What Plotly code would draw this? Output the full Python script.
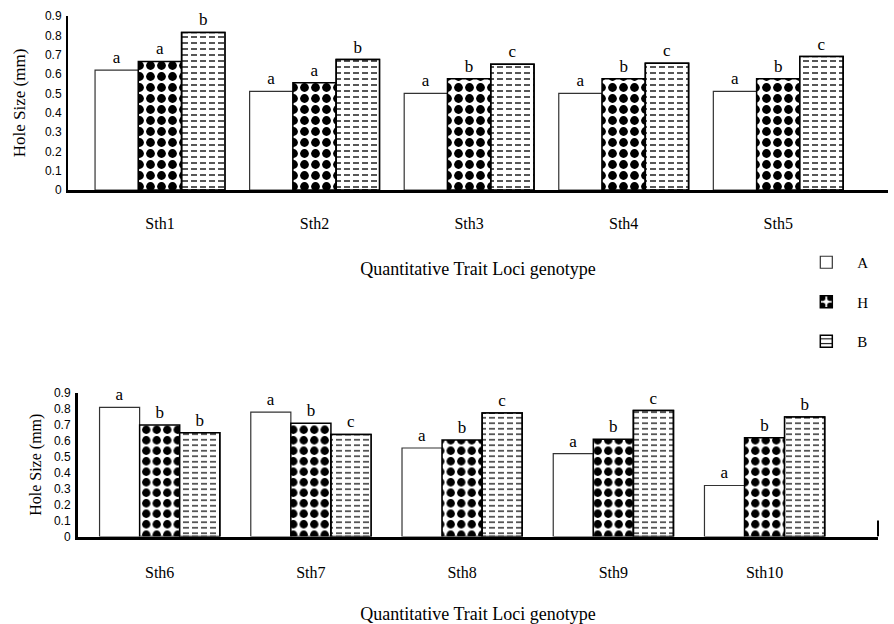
import plotly.graph_objects as go

# ---------------- data ----------------
loci_top = ["Sth1", "Sth2", "Sth3", "Sth4", "Sth5"]
loci_bottom = ["Sth6", "Sth7", "Sth8", "Sth9", "Sth10"]
genotypes = ["A", "H", "B"]

top_A = [0.62, 0.51, 0.50, 0.50, 0.51]
top_H = [0.665, 0.555, 0.575, 0.575, 0.575]
top_B = [0.815, 0.675, 0.65, 0.655, 0.69]
top_A_letters = ["a", "a", "a", "a", "a"]
top_H_letters = ["a", "a", "b", "b", "b"]
top_B_letters = ["b", "b", "c", "c", "c"]

bot_A = [0.81, 0.78, 0.555, 0.52, 0.32]
bot_H = [0.70, 0.71, 0.605, 0.61, 0.62]
bot_B = [0.65, 0.64, 0.775, 0.79, 0.75]
bot_A_letters = ["a", "a", "a", "a", "a"]
bot_H_letters = ["b", "b", "b", "b", "b"]
bot_B_letters = ["b", "c", "c", "c", "b"]

y_ticks = [0, 0.1, 0.2, 0.3, 0.4, 0.5, 0.6, 0.7, 0.8, 0.9]
y_ticktext = ["0", "0.1", "0.2", "0.3", "0.4", "0.5", "0.6", "0.7", "0.8", "0.9"]

SERIF = "Liberation Serif, Times New Roman, serif"
SANS = "Liberation Sans, Arial, sans-serif"

fig = go.Figure()


def add_panel(xa, ya, cats, vals, letters, width, show_legend, hsize, dsize):
    offs = [-1.5 * width, -0.5 * width, 0.5 * width]
    tf = dict(family=SERIF, size=17, color="black")
    # A: open bars
    fig.add_trace(go.Bar(
        x=cats, y=vals[0], name=genotypes[0], width=width, offset=offs[0],
        opacity=1,
        marker=dict(color="white", opacity=1, line=dict(color="#333333", width=1.2)),
        text=letters[0], textposition="outside", textfont=tf,
        cliponaxis=False, xaxis=xa, yaxis=ya, showlegend=show_legend,
        legendgroup="A", hoverinfo="x+y"))
    # H: black diamonds / dots
    fig.add_trace(go.Bar(
        x=cats, y=vals[1], name=genotypes[1], width=width, offset=offs[1],
        opacity=1,
        marker=dict(color="white", opacity=1, line=dict(color="black", width=1.5),
                    pattern=dict(shape=".", fgcolor="black", bgcolor="white",
                                 fgopacity=1, size=hsize, solidity=0.5)),
        text=letters[1], textposition="outside", textfont=tf,
        cliponaxis=False, xaxis=xa, yaxis=ya, showlegend=show_legend,
        legendgroup="H", hoverinfo="x+y"))
    # B: horizontal dashes (lines + white breaks)
    fig.add_trace(go.Bar(
        x=cats, y=vals[2], name=genotypes[2], width=width, offset=offs[2],
        opacity=1,
        marker=dict(color="white", opacity=1, line=dict(color="black", width=1.5),
                    pattern=dict(shape="-", fgcolor="black", bgcolor="white",
                                 fgopacity=1, size=dsize, solidity=0.22)),
        text=letters[2], textposition="outside", textfont=tf,
        cliponaxis=False, xaxis=xa, yaxis=ya, showlegend=show_legend,
        legendgroup="B", hoverinfo="x+y"))
    fig.add_trace(go.Bar(
        x=cats, y=vals[2], width=width, offset=offs[2],
        opacity=1,
        marker=dict(color="rgba(0,0,0,0)", line=dict(color="black", width=1.5),
                    pattern=dict(shape="|", fgcolor="white", fgopacity=1, size=9,
                                 solidity=0.33, fillmode="replace")),
        cliponaxis=False, xaxis=xa, yaxis=ya, showlegend=False,
        legendgroup="B", hoverinfo="skip"))


add_panel("x", "y", loci_top, [top_A, top_H, top_B],
          [top_A_letters, top_H_letters, top_B_letters], 0.28, True, 11, 6)
add_panel("x2", "y2", loci_bottom, [bot_A, bot_H, bot_B],
          [bot_A_letters, bot_H_letters, bot_B_letters], 0.265, False, 10.5, 5.5)

yaxis_common = dict(
    range=[0, 0.9], tickvals=y_ticks, ticktext=y_ticktext,
    showline=True, linecolor="black", ticks="", showgrid=False, zeroline=False,
    tickfont=dict(family=SANS, size=12, color="black"),
    ticklabelstandoff=2, automargin=False,
)
xaxis_common = dict(
    type="category", showline=True, linecolor="black", linewidth=3,
    ticks="", showgrid=False, zeroline=False, automargin=False,
    tickfont=dict(family=SERIF, size=16, color="black"),
)

fig.update_layout(
    width=894, height=624,
    margin=dict(l=0, r=0, t=0, b=0, pad=0, autoexpand=False),
    paper_bgcolor="white", plot_bgcolor="white",
    barmode="overlay",
    xaxis=dict(**xaxis_common, domain=[68 / 894, 888 / 894], anchor="y",
               range=[-0.595, 4.71], ticklabelstandoff=17,
               title=dict(text="Quantitative Trait Loci genotype",
                          font=dict(family=SERIF, size=18, color="black"),
                          standoff=32)),
    yaxis=dict(**yaxis_common, domain=[(624 - 190) / 624, (624 - 16) / 624],
               anchor="x", linewidth=2,
               title=dict(text="Hole Size (mm)",
                          font=dict(family=SERIF, size=17, color="black"),
                          standoff=15)),
    xaxis2=dict(**xaxis_common, domain=[78 / 894, 878 / 894], anchor="y2",
                range=[-0.54, 4.75], ticklabelstandoff=19,
                title=dict(text="Quantitative Trait Loci genotype",
                           font=dict(family=SERIF, size=18, color="black"),
                           standoff=28)),
    yaxis2=dict(**yaxis_common, domain=[(624 - 536.5) / 624, (624 - 393) / 624],
                anchor="x2", linewidth=3,
                title=dict(text="Hole Size (mm)",
                           font=dict(family=SERIF, size=16, color="black"),
                           standoff=9)),
    legend=dict(x=0.8896, y=(624 - 246) / 624, xanchor="left", yanchor="top",
                font=dict(family=SERIF, size=15, color="black"),
                tracegroupgap=17, bgcolor="rgba(0,0,0,0)", itemwidth=52),
    shapes=[dict(type="line", xref="x2 domain", yref="y2", x0=1, x1=1,
                 y0=0, y1=0.1, line=dict(color="black", width=2))],
)

fig.write_html("out.html",
               config={"displayModeBar": False},
               post_script="document.body.style.margin='0px';")
